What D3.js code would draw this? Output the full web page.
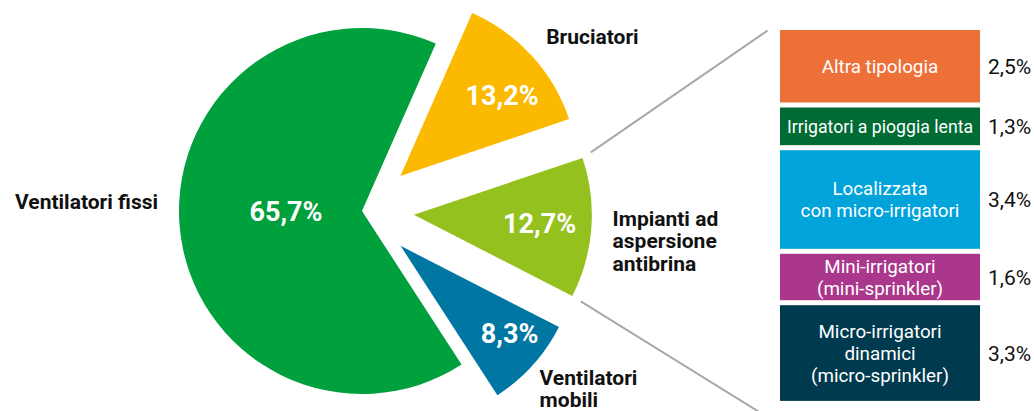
<!DOCTYPE html>
<html>
<head>
<meta charset="utf-8">
<script src="https://cdn.jsdelivr.net/npm/d3@7"></script>
<style>
  body { margin: 0; background: #fff; }
  text { font-family: Roboto, "Noto Sans", sans-serif; }
</style>
</head>
<body>
<svg id="chart" width="1034" height="411"></svg>
<script>
// pie: share of frost protection systems
var pieNames = [["Bruciatori"], ["Impianti ad", "aspersione", "antibrina"], ["Ventilatori", "mobili"], ["Ventilatori fissi"]];
var pieValues = [13.2, 12.7, 8.3, 65.7];
var pieColors = ["#fbb900", "#95c11f", "#0076a3", "#00a03c"];

// breakdown of the "aspersione antibrina" slice
var barNames = [["Altra tipologia"], ["Irrigatori a pioggia lenta"], ["Localizzata", "con micro-irrigatori"], ["Mini-irrigatori", "(mini-sprinkler)"], ["Micro-irrigatori", "dinamici", "(micro-sprinkler)"]];
var barValues = [2.5, 1.3, 3.4, 1.6, 3.3];
var barColors = ["#ee7039", "#006b35", "#00a3da", "#aa378b", "#003a4e"];

var fmt = function(v) { return d3.format(".1f")(v).replace(".", ",") + "%"; };
var rad = function(a) { return a * Math.PI / 180; };
var polar = function(r, a) { return [r * Math.sin(rad(a)), -r * Math.cos(rad(a))]; };

var svg = d3.select("#chart");
var cx = 362, cy = 211;
var startDeg = 23.8;

var pie = d3.pie().sort(null)
    .startAngle(rad(startDeg))
    .endAngle(rad(startDeg + 360));
var arcs = pie(pieValues);

// layout of each slice: explode distance, radius, label spots (polar from slice apex)
var explode = [52, 52, 52, 0];
var radius = [178, 178, 178, 183];
var pctAt = [[130, 51.5], [126, 94], [139.5, 128.6], [76, 269.5]];
var nameAt = [[233, 55.5, "middle"], [199, 93.2, "start"], [196.6, 135, "start"], [204, 270.6, "end"]];

var slices = svg.append("g").selectAll("g")
    .data(arcs)
    .enter().append("g")
    .attr("transform", function(d, i) {
        var mid = (d.startAngle + d.endAngle) / 2 * 180 / Math.PI;
        var o = polar(explode[i], mid);
        return "translate(" + (cx + o[0]) + "," + (cy + o[1]) + ")";
    });

slices.append("path")
    .attr("d", function(d, i) { return d3.arc().innerRadius(0).outerRadius(radius[i])(d); })
    .attr("fill", function(d, i) { return pieColors[i]; });

slices.append("text")
    .attr("transform", function(d, i) { var p = polar(pctAt[i][0], pctAt[i][1]); return "translate(" + p[0] + "," + p[1] + ")"; })
    .attr("text-anchor", "middle")
    .attr("dy", "0.36em")
    .attr("fill", "#fff")
    .attr("font-size", 27)
    .attr("font-weight", "bold")
    .text(function(d) { return fmt(d.data); });

slices.each(function(d, i) {
    var p = polar(nameAt[i][0], nameAt[i][1]);
    var t = d3.select(this).append("text")
        .attr("x", p[0])
        .attr("y", p[1])
        .attr("text-anchor", nameAt[i][2])
        .attr("font-size", 21)
        .attr("font-weight", "bold")
        .attr("fill", "#111");
    if (nameAt[i][2] === "middle") t.attr("dy", "0.36em");
    t.selectAll("tspan")
        .data(pieNames[i])
        .enter().append("tspan")
        .attr("x", p[0])
        .attr("dy", function(s, j) { return j ? 22.5 : 0; })
        .text(function(s) { return s; });
});

// stacked breakdown bar
var barX = 780, barW = 200, barTop = 30, gap = 5;
var h = d3.scaleLinear().domain([0, 1]).range([0, 29]);
var y0 = [];
barValues.reduce(function(acc, v, i) { y0[i] = acc; return acc + h(v) + gap; }, barTop);
var barBottom = y0[4] + h(barValues[4]);

var boxes = svg.append("g").selectAll("g")
    .data(barValues)
    .enter().append("g")
    .attr("transform", function(d, i) { return "translate(" + barX + "," + y0[i] + ")"; });

boxes.append("rect")
    .attr("width", barW)
    .attr("height", function(d) { return h(d); })
    .attr("fill", function(d, i) { return barColors[i]; });

boxes.each(function(d, i) {
    var lh = 21.7, n = barNames[i].length, fs = 18.8;
    var t = d3.select(this).append("text")
        .attr("text-anchor", "middle")
        .attr("fill", "#fff")
        .attr("font-size", fs);
    t.selectAll("tspan")
        .data(barNames[i])
        .enter().append("tspan")
        .attr("x", barW / 2)
        .attr("y", function(s, j) { return h(d) / 2 + (j - (n - 1) / 2) * lh; })
        .attr("dy", "0.36em")
        .text(function(s) { return s; });
    var w = t.node().getBBox().width;
    if (w > barW - 14) t.attr("font-size", fs * (barW - 14) / w);
});

boxes.append("text")
    .attr("x", barW + 8)
    .attr("y", function(d) { return h(d) / 2; })
    .attr("dy", "0.36em")
    .attr("font-size", 21)
    .attr("fill", "#111")
    .text(function(d) { return fmt(d); });

// connector lines from the antibrina slice to the bar
var lime = arcs[1];
var limeMid = (lime.startAngle + lime.endAngle) / 2 * 180 / Math.PI;
var lo = polar(explode[1], limeMid);
var c1 = polar(radius[1], lime.startAngle * 180 / Math.PI);
var c2 = polar(radius[1], lime.endAngle * 180 / Math.PI);
var links = [
    [[cx + lo[0] + c1[0], cy + lo[1] + c1[1]], [barX, barTop - 8]],
    [[cx + lo[0] + c2[0], cy + lo[1] + c2[1]], [barX, barBottom + 24]]
];
svg.append("g").selectAll("line")
    .data(links)
    .enter().append("line")
    .each(function(l) {
        var dx = l[1][0] - l[0][0], dy = l[1][1] - l[0][1], len = Math.hypot(dx, dy);
        var a = 10 / len, b = 1 - 15 / len;
        d3.select(this)
            .attr("x1", l[0][0] + dx * a).attr("y1", l[0][1] + dy * a)
            .attr("x2", l[0][0] + dx * b).attr("y2", l[0][1] + dy * b);
    })
    .attr("stroke", "#a8a8a8")
    .attr("stroke-width", 2);
</script>
</body>
</html>
